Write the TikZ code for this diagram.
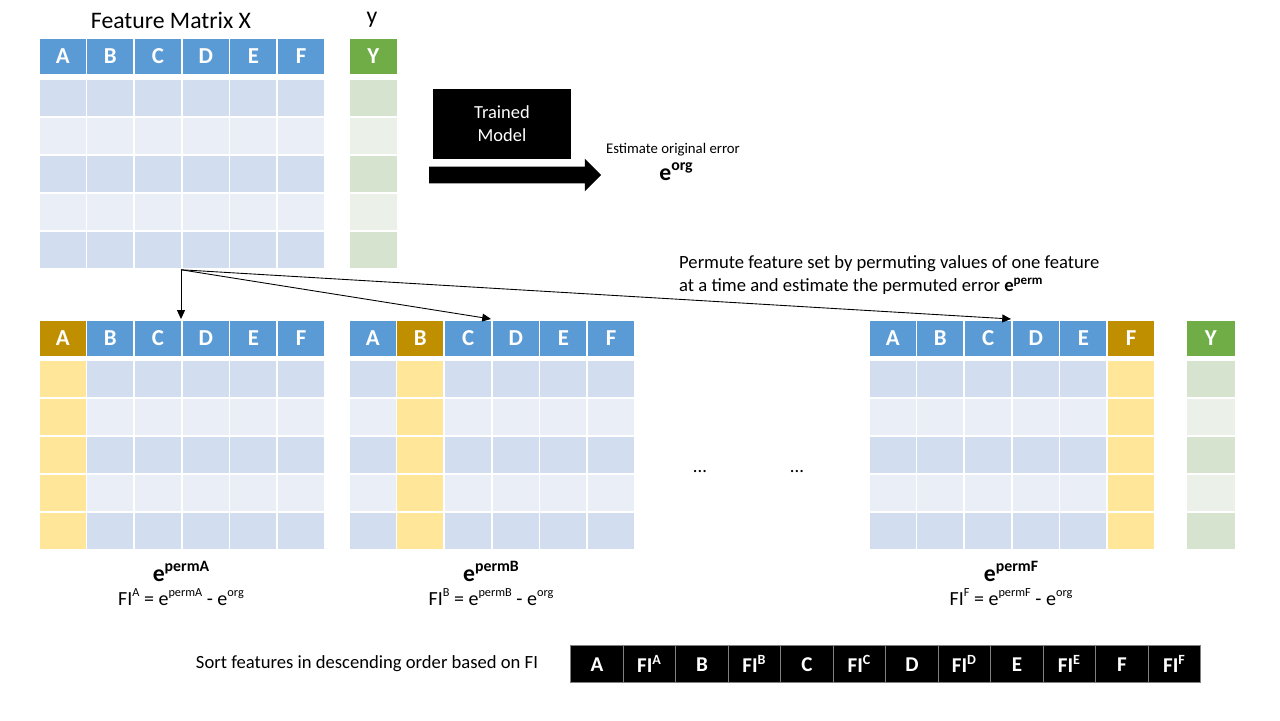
\documentclass[tikz,border=0pt]{standalone}
\usepackage{fontspec}
\setmainfont{Carlito}
\usetikzlibrary{arrows.meta,shapes,positioning}
\definecolor{hdrblue}{HTML}{5B9BD5}
\definecolor{rowdark}{HTML}{D2DEEF}
\definecolor{rowlight}{HTML}{EAEFF7}
\definecolor{hdrgreen}{HTML}{70AD47}
\definecolor{ydark}{HTML}{D5E3CF}
\definecolor{ylight}{HTML}{EBF1E9}
\definecolor{hdrgold}{HTML}{BF8F00}
\definecolor{permcell}{HTML}{FFE699}
\newcommand{\bigsup}[1]{\raisebox{0.42em}{\fontsize{9}{10}\selectfont #1}}
\newcommand{\smallsup}[1]{\raisebox{0.42em}{\fontsize{7}{8}\selectfont #1}}

\begin{document}
\begin{tikzpicture}[x = 0.02cm, y = -0.02cm,
        cell/.style = {draw = white, line width = 1pt, inner sep = 0pt, anchor = north west,
                       minimum width = 0.953cm, minimum height = 0.76cm},
        head/.style = {cell, minimum height = 0.74cm, fill = hdrblue, text = white,
                       font = \fontsize{13}{15}\selectfont\bfseries},
        link/.style = {line width = 0.5pt, -{Triangle[length = 5pt, width = 4.5pt]}},
        bigarrow/.style = {single arrow, fill = black, minimum height = 3.44cm, minimum width = 0.64cm,
                           inner sep = 0.16cm, single arrow head extend = 0.16cm},
        sortbox/.style = {draw = gray, line width = 0.8pt, fill = black, text = white, inner sep = 0pt,
                          minimum width = 1.05cm, minimum height = 0.74cm, anchor = north west,
                          font = \fontsize{12}{14}\selectfont\bfseries},
        label_big/.style = {font = \fontsize{13.5}{16}\selectfont\bfseries},
        label_txt/.style = {font = \fontsize{10.6}{13}\selectfont}]
    \useasboundingbox (0,0) rectangle (1280,720);
    % feature matrix X and y
    \node[font = \fontsize{13.5}{16}\selectfont] (titleX) at (171,20) {Feature Matrix X};
    \node[font = \fontsize{13.5}{16}\selectfont] (titleY) at (372,20) {y};
    \foreach \Col [count = \i from 0] in {A,...,F}{
        \node[head] (top\Col) at (38+\i*47.67, 37) {\Col};
        \foreach \Row/\Shade in {1/rowdark, 2/rowlight, 3/rowdark, 4/rowlight, 5/rowdark}
            \node[cell, fill = \Shade] (top\Col\Row) at (38+\i*47.67, 40+\Row*38) {};
    }
    \node[head, fill = hdrgreen, minimum width = 0.98cm] (topY) at (348,37) {Y};
    \foreach \Row/\Shade in {1/ydark, 2/ylight, 3/ydark, 4/ylight, 5/ydark}
        \node[cell, fill = \Shade, minimum width = 0.98cm] (topY\Row) at (348, 40+\Row*38) {};
    % trained model
    \node[fill = black, text = white, minimum width = 2.76cm, minimum height = 1.4cm, align = center,
          font = \fontsize{10.5}{13}\selectfont] (model) at (502,124) {Trained\\Model};
    \node[bigarrow] (flow) at (511,175) {};
    \node[font = \fontsize{8.4}{10}\selectfont] (esttxt) at (673,150) {Estimate original error};
    \node[label_big] (eorg) at (676,172) {e\bigsup{org}};
    \node[label_txt, anchor = west, align = left] (permtxt) at (673,275)
        {Permute feature set by permuting values of one feature\\
         at a time and estimate the permuted error \textbf{e\textsuperscript{perm}}};
    % permuted matrices
    \foreach \Perm/\Xo/\Pi in {A/38/0, B/348/1, F/868/5}{
        \begin{scope}[shift = {(\Xo,0)}]
            \foreach \Col [count = \i from 0] in {A,...,F}{
                \node[head] (p\Perm\Col) at (\i*47.67, 319) {\Col};
                \foreach \Row/\Shade in {1/rowdark, 2/rowlight, 3/rowdark, 4/rowlight, 5/rowdark}
                    \node[cell, fill = \Shade] (p\Perm\Col\Row) at (\i*47.67, 321+\Row*38) {};
            }
            %permuted column
            \node[head, fill = hdrgold] (perm\Perm) at (\Pi*47.67, 319) {\Perm};
            \foreach \Row in {1,...,5}
                \node[cell, fill = permcell] (perm\Perm\Row) at (\Pi*47.67, 321+\Row*38) {};
            \node[label_big] (e\Perm) at (143,571) {e\bigsup{perm\Perm}};
            \node[font = \fontsize{11.4}{13}\selectfont] (fi\Perm) at (143,597)
                {FI\smallsup{\Perm} = e\smallsup{perm\Perm} - e\smallsup{org}};
        \end{scope}
    }
    \node[head, fill = hdrgreen, minimum width = 1cm] (permY) at (1185,319) {Y};
    \foreach \Row/\Shade in {1/ydark, 2/ylight, 3/ydark, 4/ylight, 5/ydark}
        \node[cell, fill = \Shade, minimum width = 1cm] (permY\Row) at (1185, 321+\Row*38) {};
    \node[label_txt] (dotsL) at (700,472) {...};
    \node[label_txt] (dotsR) at (797,472) {...};
    % connectors
    \draw[link] (topD5.south west) -- (pAD.north west);
    \draw[link] (topD5.south west) -- (pBD.north west);
    \draw[link] (topD5.south west) -- (pFD.north west);
    % sorted features
    \node[label_txt] (sorttxt) at (367,664) {Sort features in descending order based on FI};
    \foreach \Feat [count = \k from 0] in {A,...,F}{
        \node[sortbox] (sort\Feat) at (570+\k*105, 645) {\Feat};
        \node[sortbox] (sortFI\Feat) at (622.5+\k*105, 645) {FI\textsuperscript{\Feat}};
    }
\end{tikzpicture}
\end{document}
